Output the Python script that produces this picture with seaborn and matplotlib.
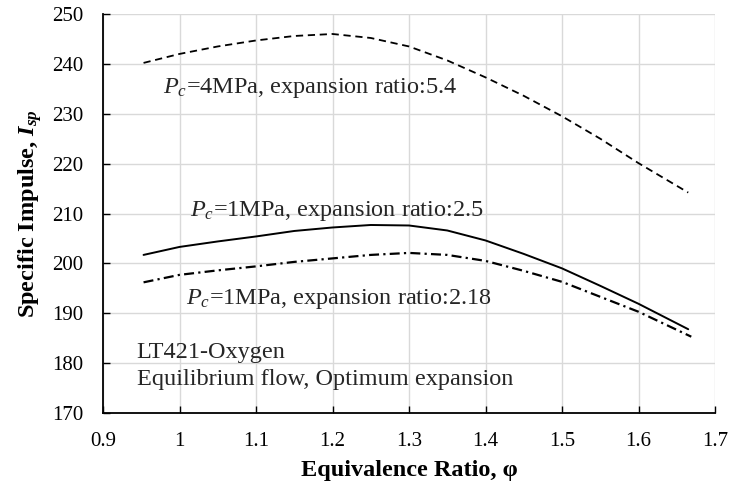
import numpy as np
import pandas as pd
import matplotlib
matplotlib.use("Agg")
import matplotlib.pyplot as plt
import seaborn as sns

# --- data ---
phi_4mpa = [0.953, 1.0, 1.05, 1.1, 1.15, 1.2, 1.25, 1.3, 1.35, 1.4, 1.45, 1.5, 1.55, 1.6, 1.665]
isp_4mpa = [240.2, 242.0, 243.5, 244.7, 245.6, 246.0, 245.2, 243.5, 240.7, 237.3, 233.6, 229.5, 225.0, 220.1, 214.2]

phi_1mpa_25 = [0.953, 1.0, 1.05, 1.1, 1.15, 1.2, 1.25, 1.3, 1.35, 1.4, 1.45, 1.5, 1.55, 1.6, 1.665]
isp_1mpa_25 = [201.7, 203.3, 204.4, 205.4, 206.5, 207.2, 207.7, 207.6, 206.6, 204.6, 201.9, 199.0, 195.5, 191.9, 186.8]

phi_1mpa_218 = [0.953, 1.0, 1.05, 1.1, 1.15, 1.2, 1.25, 1.3, 1.35, 1.4, 1.45, 1.5, 1.55, 1.6, 1.669]
isp_1mpa_218 = [196.2, 197.7, 198.6, 199.4, 200.3, 201.0, 201.7, 202.1, 201.7, 200.5, 198.5, 196.3, 193.3, 190.3, 185.3]

x_ticks = [0.9, 1.0, 1.1, 1.2, 1.3, 1.4, 1.5, 1.6, 1.7]
x_tick_labels = ["0.9", "1", "1.1", "1.2", "1.3", "1.4", "1.5", "1.6", "1.7"]
y_ticks = [170, 180, 190, 200, 210, 220, 230, 240, 250]

sns.set_theme(style="whitegrid")
plt.rcParams["font.family"] = ["Liberation Serif", "DejaVu Serif"]
plt.rcParams["mathtext.fontset"] = "custom"
plt.rcParams["mathtext.rm"] = "Liberation Serif"
plt.rcParams["mathtext.it"] = "Liberation Serif:italic"
plt.rcParams["mathtext.bf"] = "Liberation Serif:bold"
plt.rcParams["mathtext.bfit"] = "Liberation Serif:italic:bold"

fig = plt.figure(figsize=(7.29, 4.84), dpi=100)
ax = fig.add_axes([0.1413, 0.1467, 0.8395, 0.8243])

d1 = pd.DataFrame({"phi": phi_4mpa, "isp": isp_4mpa})
d2 = pd.DataFrame({"phi": phi_1mpa_25, "isp": isp_1mpa_25})
d3 = pd.DataFrame({"phi": phi_1mpa_218, "isp": isp_1mpa_218})

sns.lineplot(data=d1, x="phi", y="isp", ax=ax, color="black", linewidth=1.3,
             estimator=None, sort=False)
ax.lines[-1].set_dashes([4.0, 2.6])
sns.lineplot(data=d2, x="phi", y="isp", ax=ax, color="black", linewidth=1.4,
             estimator=None, sort=False)
sns.lineplot(data=d3, x="phi", y="isp", ax=ax, color="black", linewidth=1.6,
             estimator=None, sort=False)
ax.lines[-1].set_dashes([4.5, 1.9, 1.0, 1.9])
for ln in ax.lines:
    ln.set_solid_joinstyle("round")
    ln.set_dash_joinstyle("round")

ax.set_xlim(0.9, 1.7)
ax.set_ylim(170, 250)
ax.set_xticks(x_ticks)
ax.set_xticklabels(x_tick_labels)
ax.set_yticks(y_ticks)

ax.grid(True, color="#d9d9d9", linewidth=1.0)
for s in ["top", "right"]:
    ax.spines[s].set_visible(False)
for s in ["left", "bottom"]:
    ax.spines[s].set_visible(True)
    ax.spines[s].set_color("black")
    ax.spines[s].set_linewidth(1.3)

ax.tick_params(axis="y", which="major", direction="in", length=5, width=1.0,
               color="black", left=True, labelsize=15, labelcolor="black", pad=14)
ax.tick_params(axis="x", which="major", direction="in", length=5, width=1.0,
               color="black", bottom=True, labelsize=15, labelcolor="black", pad=14)

ax.set_xlabel("Equivalence Ratio, φ", fontsize=17.5, fontweight="bold", color="black", labelpad=6)
ax.set_ylabel(r"Specific Impulse, $\mathbfit{I}_{\mathbfit{sp}}$", fontsize=17.5,
              fontweight="bold", color="black", labelpad=6)

fs = 17.5
ax.text(0.978, 235.2, r"$P_c$=4MPa, expansion ratio:5.4", fontsize=fs, va="center", ha="left")
ax.text(1.0137, 210.6, r"$P_c$=1MPa, expansion ratio:2.5", fontsize=fs, va="center", ha="left")
ax.text(1.0085, 192.8, r"$P_c$=1MPa, expansion ratio:2.18", fontsize=fs, va="center", ha="left")
ax.text(0.944, 182.2, "LT421-Oxygen", fontsize=fs, va="center", ha="left")
ax.text(0.944, 176.8, "Equilibrium flow, Optimum expansion", fontsize=fs, va="center", ha="left")

fig.savefig("out.png", dpi=100)
